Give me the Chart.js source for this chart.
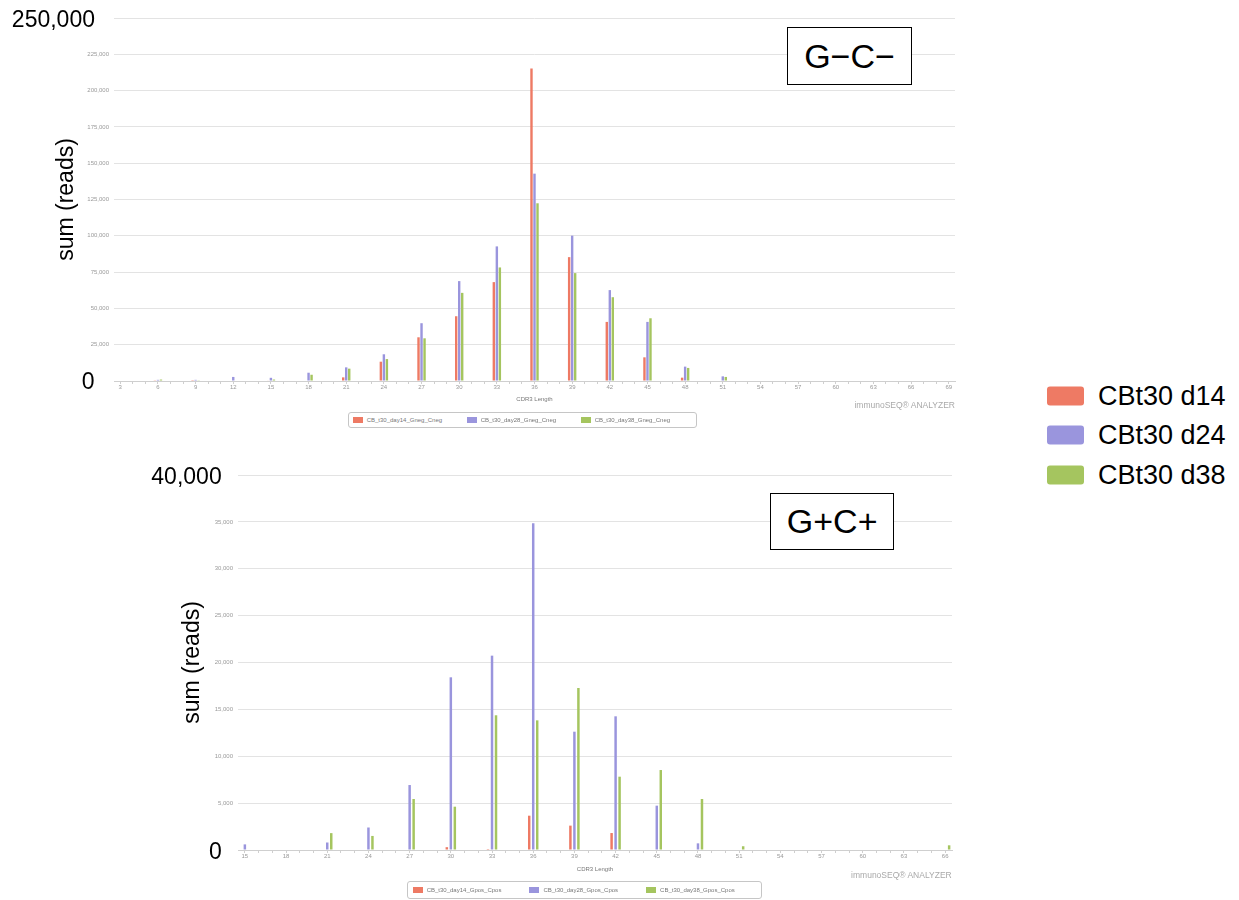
<!DOCTYPE html>
<html><head><meta charset="utf-8">
<script src="https://cdn.jsdelivr.net/npm/chart.js@4.4.1/dist/chart.umd.min.js"></script>
<style>
html,body{margin:0;padding:0;background:#fff;}
body{width:1239px;height:900px;position:relative;overflow:hidden;font-family:'Liberation Sans',Arial,sans-serif;}
canvas{position:absolute;}
.big{position:absolute;font-size:23px;line-height:1;transform:translateY(-50%);text-align:right;color:#000;z-index:2;}
.tag{position:absolute;border:1px solid #000;box-sizing:border-box;display:flex;align-items:center;justify-content:center;font-size:34px;line-height:1;color:#000;background:#fff;z-index:2;}
.mini{position:absolute;border:1px solid #c6c6c6;border-radius:3px;box-sizing:border-box;z-index:2;}
.mini .sw{position:absolute;width:10px;height:6px;top:50%;transform:translateY(-50%);}
.mini .tx{position:absolute;top:50%;transform:translateY(-50%);font-size:6px;line-height:1;color:#777;white-space:nowrap;}
.wm{position:absolute;text-align:right;line-height:1;transform:translateY(-50%);color:#a9a9a9;white-space:nowrap;z-index:2;}
.leg{position:absolute;left:1046.7px;width:37.6px;height:19px;border-radius:3px;transform:translateY(-50%);}
.legt{position:absolute;left:1098px;font-size:27px;line-height:1;transform:translateY(-50%);color:#000;white-space:nowrap;}
</style>
</head>
<body>
<canvas id="c1" width="960" height="410" style="left:0;top:0"></canvas>
<canvas id="c2" width="837" height="420" style="left:120px;top:460px"></canvas>

<div class="big" style="left:0;width:95px;top:19px">250,000</div>
<div class="big" style="left:0;width:94.5px;top:381px">0</div>
<div class="big" style="left:100px;width:121.7px;top:475.5px">40,000</div>
<div class="big" style="left:100px;width:121.7px;top:851px">0</div>

<div class="tag" style="left:787px;top:27px;width:125px;height:58px">G&#8722;C&#8722;</div>
<div class="tag" style="left:770px;top:492.7px;width:124.3px;height:57.3px">G+C+</div>

<div class="wm" style="right:284px;top:405px;font-size:8.5px">immunoSEQ&#174; ANALYZER</div>
<div class="wm" style="right:287.3px;top:875px;font-size:8.5px">immunoSEQ&#174; ANALYZER</div>

<div id="mini1" class="mini" style="left:348px;top:411.7px;width:349px;height:16px"></div>
<div id="mini2" class="mini" style="left:406.7px;top:881px;width:355px;height:18px"></div>

<div id="rightLegend"></div>

<script>
// ---------- data ----------
const seriesColors = ['#EE7A64', '#9A95DD', '#A5C55F'];
const legendNames = ['CBt30 d14', 'CBt30 d24', 'CBt30 d38'];

// G-C- panel
const topCategories = ['3','4','5','6','7','8','9','10','11','12','13','14','15','16','17','18','19','20','21','22','23','24','25','26','27','28','29','30','31','32','33','34','35','36','37','38','39','40','41','42','43','44','45','46','47','48','49','50','51','52','53','54','55','56','57','58','59','60','61','62','63','64','65','66','67','68','69'];
const topTickLabels = ['3','6','9','12','15','18','21','24','27','30','33','36','39','42','45','48','51','54','57','60','63','66','69'];
const topLengths = [3,6,9,12,15,18,21,24,27,30,33,36,39,42,45,48,51,54,57,60,63,66,69];
const topSeriesNames = ['CB_t30_day14_Gneg_Cneg', 'CB_t30_day28_Gneg_Cneg', 'CB_t30_day38_Gneg_Cneg'];
const topDay14 = [0, 500, 600, 0, 300, 0, 2500, 13300, 30100, 44600, 68100, 215300, 85300, 40700, 16300, 2300, 0, 0, 0, 0, 0, 0, 0];
const topDay28 = [0, 800, 800, 2800, 2200, 5700, 9400, 18400, 39800, 68800, 92700, 142800, 100100, 62600, 40700, 9900, 3200, 0, 0, 0, 0, 0, 0];
const topDay38 = [0, 1000, 500, 0, 1000, 4300, 8500, 15100, 29400, 60700, 78200, 122400, 74300, 57700, 43200, 9000, 2800, 0, 0, 0, 0, 0, 0];

// G+C+ panel
const botCategories = ['15','16','17','18','19','20','21','22','23','24','25','26','27','28','29','30','31','32','33','34','35','36','37','38','39','40','41','42','43','44','45','46','47','48','49','50','51','52','53','54','55','56','57','58','59','60','61','62','63','64','65','66'];
const botTickLabels = ['15','18','21','24','27','30','33','36','39','42','45','48','51','54','57','60','63','66'];
const botLengths = [15,18,21,24,27,30,33,36,39,42,45,48,51,54,57,60,63,66];
const botSeriesNames = ['CB_t30_day14_Gpos_Cpos', 'CB_t30_day28_Gpos_Cpos', 'CB_t30_day38_Gpos_Cpos'];
const botDay14 = [0, 0, 0, 0, 0, 300, 100, 3660, 2600, 1810, 0, 0, 0, 0, 0, 0, 0, 0];
const botDay28 = [600, 0, 800, 2400, 6930, 18420, 20730, 34850, 12620, 14260, 4730, 710, 0, 0, 0, 0, 0, 0];
const botDay38 = [0, 0, 1800, 1500, 5440, 4620, 14370, 13830, 17280, 7820, 8530, 5440, 400, 0, 0, 0, 0, 500];

// ---------- charts ----------
const FAM = "'Liberation Sans', Arial, sans-serif";

function buildChart(el, cfg) {
  const datasets = cfg.series.map((vals, i) => ({
    label: cfg.names[i],
    data: cfg.lengths.map((len, j) => ({x: String(len), y: vals[j]})),
    backgroundColor: seriesColors[i],
    borderWidth: 0,
    barPercentage: cfg.bp,
    categoryPercentage: cfg.cp
  }));
  return new Chart(el, {
    type: 'bar',
    data: {labels: cfg.categories, datasets},
    options: {
      responsive: false,
      animation: false,
      devicePixelRatio: 1,
      layout: {padding: cfg.pad},
      plugins: {legend: {display: false}, tooltip: {enabled: false}},
      scales: {
        x: {
          grid: {display: true, drawOnChartArea: false, drawTicks: true, tickLength: 3, color: '#cfcfcf', offset: false},
          border: {display: true, color: '#cfcfcf'},
          ticks: {
            autoSkip: false, maxRotation: 0, minRotation: 0, padding: 0,
            font: {size: 6, family: FAM}, color: '#999',
            callback: function (value) {
              const l = this.getLabelForValue(value);
              return cfg.tickLabels.includes(l) ? l : '';
            }
          },
          title: {display: true, text: 'CDR3 Length', font: {size: 6, family: FAM}, color: '#777', padding: {top: 0, bottom: cfg.xTitlePad}},
          afterFit(s) { s.height = cfg.xHeight; }
        },
        y: {
          min: 0, max: cfg.max,
          grid: {color: '#e3e3e3', drawTicks: false},
          border: {display: false},
          ticks: {
            stepSize: cfg.step, padding: 5,
            font: {size: 6, family: FAM}, color: '#9a9a9a',
            callback: v => (v === 0 || v === cfg.max) ? '' : v.toLocaleString('en-US')
          },
          title: {display: true, text: 'sum (reads)', font: {size: 23, family: FAM}, color: '#000', padding: {top: cfg.yTitlePad, bottom: 0}},
          afterFit(s) { s.width = cfg.yWidth; }
        }
      }
    }
  });
}

buildChart(document.getElementById('c1'), {
  categories: topCategories, tickLabels: topTickLabels, lengths: topLengths,
  series: [topDay14, topDay28, topDay38], names: topSeriesNames,
  max: 250000, step: 25000,
  bp: 0.8, cp: 0.72,
  pad: {left: 40, top: 18, right: 5, bottom: 0},
  yWidth: 74, yTitlePad: 12.7, xHeight: 29, xTitlePad: 7.1
});

buildChart(document.getElementById('c2'), {
  categories: botCategories, tickLabels: botTickLabels, lengths: botLengths,
  series: [botDay14, botDay28, botDay38], names: botSeriesNames,
  max: 40000, step: 5000,
  bp: 0.62, cp: 0.874,
  pad: {left: 45, top: 15, right: 5, bottom: 0},
  yWidth: 73, yTitlePad: 13.7, xHeight: 30, xTitlePad: 7.4
});

// ---------- small in-chart legends ----------
function fillMini(id, names, start, step) {
  const box = document.getElementById(id);
  names.forEach((n, i) => {
    const sw = document.createElement('div');
    sw.className = 'sw';
    sw.style.left = (start + i * step) + 'px';
    sw.style.background = seriesColors[i];
    box.appendChild(sw);
    const tx = document.createElement('div');
    tx.className = 'tx';
    tx.style.left = (start + i * step + 14) + 'px';
    tx.textContent = n;
    box.appendChild(tx);
  });
}
fillMini('mini1', topSeriesNames, 3.7, 114);
fillMini('mini2', botSeriesNames, 5, 116.7);

// ---------- right legend ----------
const rl = document.getElementById('rightLegend');
const legendCentres = [395.5, 435, 474.5];
legendNames.forEach((n, i) => {
  const sw = document.createElement('div');
  sw.className = 'leg';
  sw.style.top = legendCentres[i] + 'px';
  sw.style.background = seriesColors[i];
  rl.appendChild(sw);
  const t = document.createElement('div');
  t.className = 'legt';
  t.style.top = legendCentres[i] + 'px';
  t.textContent = n;
  rl.appendChild(t);
});
</script>
</body></html>
